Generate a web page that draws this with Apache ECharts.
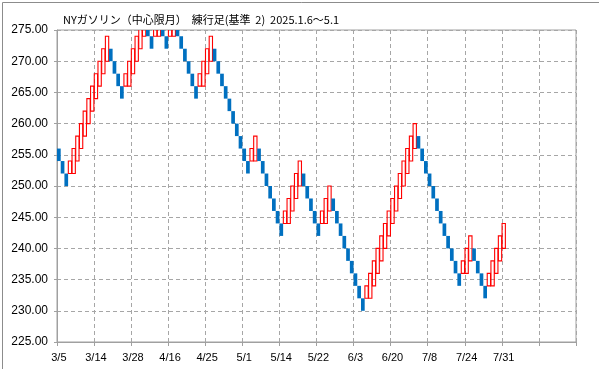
<!DOCTYPE html>
<html>
<head>
<meta charset="utf-8">
<script src="https://cdn.jsdelivr.net/npm/echarts@6/dist/echarts.min.js"></script>
<style>
html,body{margin:0;padding:0;background:#fff;}
#c{width:599px;height:369px;}
</style>
</head>
<body>
<div id="c"></div>
<script>
// ---- data ----
const titleText = 'NYガソリン（中心限月）  練行足(基準  2)  2025.1.6～5.1';
const tickLabels = ['3/5','3/14','3/28','4/16','4/25','5/1','5/14','5/22','6/3','6/20','7/8','7/24','7/31'];
const slotCount = 140;      // category slots on the axis
const labelEvery = 10;      // one tick label every 10 slots
const brickSize = 2;
// lower edge of each brick, in order
const brickLow = [
  254,252,250,
  252,254,256,258,260,262,264,266,268,270,272,
  270,268,266,264,
  266,268,270,272,274,276,
  274,272,
  274,276,
  274,272,
  274,276,
  274,272,270,268,266,264,
  266,268,270,272,
  270,268,266,264,262,260,258,256,254,252,
  254,256,
  254,252,250,248,246,244,242,
  244,246,248,250,252,
  250,248,246,244,242,
  244,246,248,
  246,244,242,240,238,236,234,232,230,
  232,234,236,238,240,242,244,246,248,250,252,254,256,258,
  256,254,252,250,248,246,244,242,240,238,236,234,
  236,238,240,
  238,236,234,232,
  234,236,238,240,242
];
// direction of each brick: 1 = up (red), -1 = down (blue)
const brickDir = [
  -1,-1,-1,
  1,1,1,1,1,1,1,1,1,1,1,
  -1,-1,-1,-1,
  1,1,1,1,1,1,
  -1,-1,
  1,1,
  -1,-1,
  1,1,
  -1,-1,-1,-1,-1,-1,
  1,1,1,1,
  -1,-1,-1,-1,-1,-1,-1,-1,-1,-1,
  1,1,
  -1,-1,-1,-1,-1,-1,-1,
  1,1,1,1,1,
  -1,-1,-1,-1,-1,
  1,1,1,
  -1,-1,-1,-1,-1,-1,-1,-1,-1,
  1,1,1,1,1,1,1,1,1,1,1,1,1,1,
  -1,-1,-1,-1,-1,-1,-1,-1,-1,-1,-1,-1,
  1,1,1,
  -1,-1,-1,-1,
  1,1,1,1,1
];

// ---- build ----
const categories = [];
for (let i = 0; i < slotCount; i++) {
  categories.push(i % labelEvery === 0 ? (tickLabels[i / labelEvery] || '') : '');
}
const opens = brickLow.map((lo, i) => brickDir[i] > 0 ? lo : lo + brickSize);
const data = brickLow.map((lo, i) => {
  const hi = lo + brickSize;
  // up bricks are outlined from the previous brick's open to their own close
  const base = (brickDir[i] > 0 && i > 0) ? Math.min(opens[i - 1], lo) : lo;
  return [i, lo, hi, brickDir[i], base];
});

function renderItem(params, api) {
  const i = api.value(0), lo = api.value(1), hi = api.value(2), dir = api.value(3), base = api.value(4);
  const w = api.size([1, 0])[0];
  const pTop = api.coord([i, hi]);
  if (dir < 0) {
    const pBot = api.coord([i, lo]);
    return {
      type: 'rect',
      shape: { x: pTop[0] - w / 2, y: pTop[1], width: w, height: pBot[1] - pTop[1] },
      style: { fill: '#0070C0' }
    };
  }
  const pBase = api.coord([i, base]);
  return {
    type: 'rect',
    shape: { x: pTop[0] - w / 2 + 0.2, y: pTop[1], width: w - 0.4, height: pBase[1] - pTop[1] },
    style: { fill: 'none', stroke: '#FF0000', lineWidth: 1.1 }
  };
}

const chart = echarts.init(document.getElementById('c'), null, { renderer: 'canvas' });
chart.setOption({
  animation: false,
  backgroundColor: '#ffffff',
  title: {
    text: titleText,
    left: 58, top: 9,
    textStyle: { fontSize: 11, fontWeight: 'normal', color: '#000', fontFamily: 'Noto Sans CJK JP' }
  },
  graphic: [{
    type: 'rect', left: 0, top: 0,
    shape: { x: 0.5, y: 0.5, width: 598, height: 368 },
    style: { fill: 'none', stroke: '#8c8c8c', lineWidth: 1 }, silent: true
  }],
  grid: {
    left: 57, right: 23, top: 30, bottom: 27,
    show: true, borderColor: '#a0a0a0', borderWidth: 1, backgroundColor: 'transparent'
  },
  xAxis: {
    type: 'category',
    data: categories,
    boundaryGap: true,
    axisLine: { lineStyle: { color: '#a0a0a0' } },
    axisTick: { show: true, interval: labelEvery - 1, length: 4, lineStyle: { color: '#a0a0a0' } },
    axisLabel: { interval: labelEvery - 1, color: '#000', fontSize: 11, fontFamily: 'Liberation Sans', margin: 10 },
    splitLine: { show: true, interval: labelEvery - 1, lineStyle: { color: '#a6a6a6', type: [4, 3], width: 1 } }
  },
  yAxis: {
    type: 'value',
    min: 225, max: 275, interval: 5,
    axisLine: { show: true, lineStyle: { color: '#a0a0a0' } },
    axisTick: { show: true, length: 3, lineStyle: { color: '#a0a0a0' } },
    axisLabel: { color: '#000', fontSize: 12, fontFamily: 'Liberation Sans', margin: 9, formatter: v => v.toFixed(2) },
    splitLine: { show: true, lineStyle: { color: '#a6a6a6', type: [4, 3], width: 1 } }
  },
  series: [{
    type: 'custom',
    clip: true,
    renderItem: renderItem,
    encode: { x: 0, y: [1, 2] },
    data: data
  }]
});
</script>
</body>
</html>
